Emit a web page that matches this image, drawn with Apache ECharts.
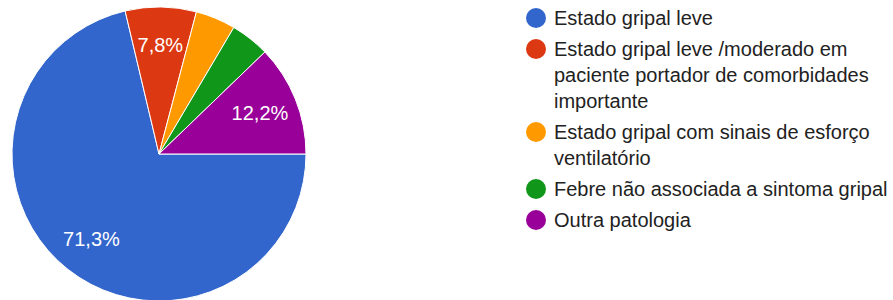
<!DOCTYPE html>
<html>
<head>
<meta charset="utf-8">
<script src="https://cdn.jsdelivr.net/npm/echarts@6/dist/echarts.min.js"></script>
<style>
  html, body { margin: 0; padding: 0; background: #fff; }
  #chart { width: 893px; height: 300px; }
</style>
</head>
<body>
<div id="chart"></div>
<script>
// categorias e percentagens
const categories = [
  'Estado gripal leve',
  'Estado gripal leve /moderado em paciente portador de comorbidades importante',
  'Estado gripal com sinais de esforço ventilatório',
  'Febre não associada a sintoma gripal',
  'Outra patologia'
];
const legendLines = [
  ['Estado gripal leve'],
  ['Estado gripal leve /moderado em', 'paciente portador de comorbidades', 'importante'],
  ['Estado gripal com sinais de esforço', 'ventilatório'],
  ['Febre não associada a sintoma gripal'],
  ['Outra patologia']
];
const shares = [71.3, 7.8, 4.4, 4.3, 12.2];
const colors = ['#3366cc', '#dc3912', '#ff9900', '#109618', '#990099'];

const FONT = '"Liberation Sans", Arial, sans-serif';
const R = 147;

let chart = echarts.init(document.getElementById('chart'), null, { renderer: 'svg' });

let pieData = categories.map((name, i) => ({ name: name, value: shares[i] }));

// rich styles for the legend dots
let rich = {
  t: { fontFamily: FONT, fontSize: 20, color: '#222222', lineHeight: 26 },
  sp: { width: 28, height: 20 },
  g: { width: 8, height: 20 }
};
colors.forEach((c, i) => {
  rich['dot' + i] = { width: 20, height: 20, borderRadius: 10, backgroundColor: c };
});

let option = {
  color: colors,
  animation: false,
  legend: {
    orient: 'vertical',
    left: 520,
    top: 5,
    padding: 0,
    itemGap: 5,
    itemWidth: 0,
    itemHeight: 20,
    icon: 'circle',
    selectedMode: false,
    data: categories,
    textStyle: { rich: rich, lineHeight: 26 },
    formatter: function (name) {
      let i = categories.indexOf(name);
      return legendLines[i].map((line, k) =>
        (k === 0 ? '{dot' + i + '|}{g|}' : '{sp|}') + '{t|' + line + '}'
      ).join('\n');
    }
  },
  series: [
    {
      name: 'main',
      type: 'pie',
      center: [159, 154],
      radius: [0, R],
      startAngle: 0,
      clockwise: true,
      silent: true,
      label: { show: false },
      labelLine: { show: false },
      itemStyle: { borderColor: '#fff', borderWidth: 1 },
      emphasis: { disabled: true },
      data: pieData
    },
    {
      // transparent copy, only to place the percent labels further out
      name: 'labels',
      type: 'pie',
      center: [159, 154],
      radius: [0, R * 1.44],
      startAngle: 0,
      clockwise: true,
      silent: true,
      itemStyle: { color: 'transparent', borderWidth: 0 },
      emphasis: { disabled: true },
      label: {
        show: true,
        position: 'inside',
        color: '#fff',
        fontFamily: FONT,
        fontSize: 20,
        formatter: function (p) {
          return p.value > 5 ? p.value.toFixed(1).replace('.', ',') + '%' : '';
        }
      },
      labelLine: { show: false },
      data: pieData
    }
  ]
};

chart.setOption(option);
</script>
</body>
</html>
